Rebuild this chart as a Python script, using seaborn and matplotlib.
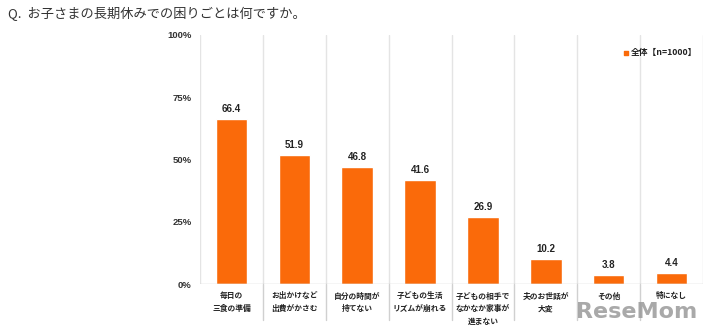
import matplotlib
matplotlib.use("Agg")
import matplotlib.pyplot as plt
import seaborn as sns
import pandas as pd

categories = [
    "毎日の\n三食の準備",
    "お出かけなど\n出費がかさむ",
    "自分の時間が\n持てない",
    "子どもの生活\nリズムが崩れる",
    "子どもの相手で\nなかなか家事が\n進まない",
    "夫のお世話が\n大変",
    "その他",
    "特になし",
]
values = [66.4, 51.9, 46.8, 41.6, 26.9, 10.2, 3.8, 4.4]
y_ticks = [0, 25, 50, 75, 100]
y_tick_labels = ["0%", "25%", "50%", "75%", "100%"]
series_name = "全体【n=1000】"
title = "Q.  お子さまの長期休みでの困りごとは何ですか。"

sns.set_theme(style="white")
plt.rcParams["font.family"] = ["Noto Sans CJK JP", "DejaVu Sans"]

BAR = "#FA6A0A"
GRID = "#E4E4E4"
LATIN = ["Liberation Sans", "DejaVu Sans"]

df = pd.DataFrame({"cat": categories, "val": values})

fig = plt.figure(figsize=(7.2, 3.32), dpi=100)
ax = fig.add_axes([200 / 720, 1 - 284 / 332, 503 / 720, 249 / 332])

sns.barplot(data=df, x="cat", y="val", color=BAR, width=0.5, saturation=1,
            ax=ax, zorder=3)

ax.set_ylim(0, 100)
ax.set_xlim(-0.5, len(categories) - 0.5)
ax.set_yticks(y_ticks)
ax.set_yticklabels(y_tick_labels, fontsize=6.8, fontweight="bold",
                   color="#333333", family=LATIN)
ax.tick_params(axis="y", length=0, pad=6)
ax.set_xticks([])
ax.set_xlabel("")
ax.set_ylabel("")
for s in ax.spines.values():
    s.set_visible(False)

# category separators, running down through the label area
for i in range(len(categories) + 1):
    x = i - 0.5
    ax.plot([x, x], [0, 100], color=GRID, lw=1, zorder=1)
    if 0 < i < len(categories):
        ax.plot([x, x], [0, -14.5], color="#D0D0D0", lw=1, zorder=1, clip_on=False)
ax.axhline(0, color="#D0D0D0", lw=1, zorder=4)

# value labels
for i, v in enumerate(values):
    ax.text(i, v + 2.0, f"{v:.1f}", ha="center", va="bottom", fontsize=7,
            fontweight="bold", color="#222222", family=LATIN)

# category labels
for i, c in enumerate(categories):
    ax.text(i, -3.0, c, ha="center", va="top", fontsize=5.6, fontweight="bold",
            color="#222222", linespacing=1.55)

# legend
ax.scatter([6.28], [92.8], marker="s", s=9, color=BAR, zorder=5, clip_on=False)
ax.text(6.36, 92.8, series_name, ha="left", va="center", fontsize=6.3,
        fontweight="bold", color="#222222")

fig.text(8 / 720, 1 - 14 / 332, title, ha="left", va="center", fontsize=9.5,
         color="#333333")

# site watermark
fig.text(697 / 720, 1 - 312 / 332, "ReseMom", ha="right", va="center",
         fontsize=16, fontweight="bold", color="#9A9A9A", alpha=0.85,
         family="DejaVu Sans")

fig.savefig("out.png", dpi=100)
